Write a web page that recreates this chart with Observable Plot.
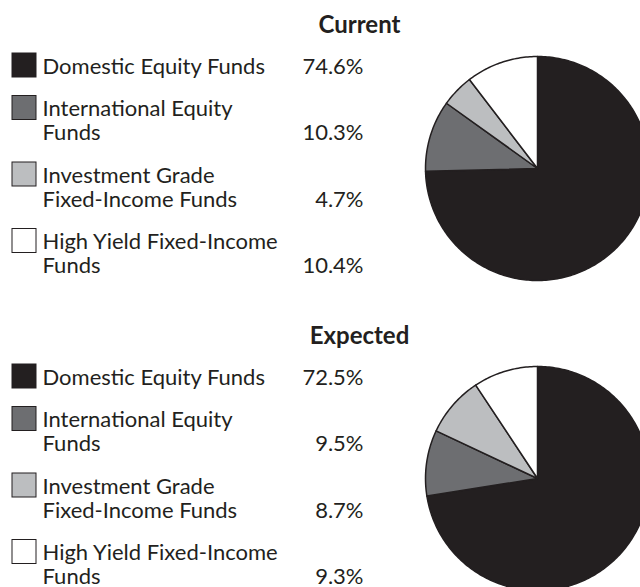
<!DOCTYPE html>
<html>
<head>
<meta charset="utf-8">
<script src="https://cdn.jsdelivr.net/npm/d3@7"></script>
<script src="https://cdn.jsdelivr.net/npm/@observablehq/plot@0.6"></script>
<style>
  html, body { margin: 0; padding: 0; background: #fff; overflow: hidden; }
  svg { overflow: hidden; display: block; }
</style>
</head>
<body>
<div id="chart"></div>
<script>
// ---- data ----
const panels = ["Current", "Expected"];
const categories = [
  "Domestic Equity Funds",
  "International Equity Funds",
  "Investment Grade Fixed-Income Funds",
  "High Yield Fixed-Income Funds"
];
const labelText = [
  "Domestic Equity Funds",
  "International Equity\nFunds",
  "Investment Grade\nFixed-Income Funds",
  "High Yield Fixed-Income\nFunds"
];
const currentValues = [74.6, 10.3, 4.7, 10.4];
const expectedValues = [72.5, 9.5, 8.7, 9.3];
const colors = ["#231f20", "#6d6e71", "#bcbec0", "#ffffff"];

// ---- layout ----
const W = 640, H = 587;
const panelOffset = 311;
const ink = "#231f20";
const fontSize = 22, lineStep = 24;
const pieR = 112;

const valuesByPanel = [currentValues, expectedValues];

// legend rows
const rows = [];
panels.forEach((p, pi) => {
  valuesByPanel[pi].forEach((v, i) => {
    const lines = labelText[i].split("\n").length;
    const yLast = 73 + pi * panelOffset + i * 66.5;
    const yFirst = yLast - (lines - 1) * lineStep;
    rows.push({panel: p, cat: categories[i], label: labelText[i], value: v, yLast, yFirst});
  });
});

// pie slice outlines computed from the values
const pts = [];
panels.forEach((p, pi) => {
  const vals = valuesByPanel[pi];
  const total = d3.sum(vals);
  const cx = 537, cy = 168 + pi * 310;
  let acc = 0;
  vals.forEach((v, i) => {
    const a0 = acc / total * 2 * Math.PI;
    acc += v;
    const a1 = acc / total * 2 * Math.PI;
    const key = p + "-" + i;
    pts.push({key, cat: categories[i], x: cx, y: cy});
    const n = Math.max(2, Math.ceil((a1 - a0) / (Math.PI / 180)));
    for (let k = 0; k <= n; ++k) {
      const a = a0 + (a1 - a0) * k / n;
      pts.push({key, cat: categories[i], x: cx + pieR * Math.sin(a), y: cy - pieR * Math.cos(a)});
    }
  });
});

const titles = panels.map((p, pi) => ({panel: p, y: 32 + pi * panelOffset}));

const chart = Plot.plot({
  width: W,
  height: H,
  margin: 0,
  style: {fontFamily: "Lato, sans-serif", background: "#fff", color: ink},
  x: {domain: [0, W], range: [0, W], axis: null},
  y: {domain: [0, H], range: [0, H], axis: null},
  color: {domain: categories, range: colors},
  marks: [
    Plot.line(pts, {
      x: "x", y: "y", z: "key", fill: "cat",
      stroke: ink, strokeWidth: 1.5, strokeLinejoin: "round",
      curve: "linear-closed"
    }),
    Plot.rect(rows, {
      x1: () => 12, x2: () => 36,
      y1: d => d.yFirst - 20, y2: d => d.yFirst + 4,
      fill: "cat", stroke: ink, strokeWidth: 1
    }),
    Plot.text(rows, {
      x: () => 42, y: "yLast", text: "label",
      textAnchor: "start", lineAnchor: "bottom",
      lineHeight: lineStep / fontSize,
      fontSize, fill: ink
    }),
    Plot.text(rows, {
      x: () => 363, y: "yLast", text: d => d.value.toFixed(1) + "%",
      textAnchor: "end", lineAnchor: "bottom",
      fontSize, fill: ink
    }),
    Plot.text(titles, {
      x: () => 359, y: "y", text: "panel",
      textAnchor: "middle", lineAnchor: "bottom",
      fontSize: 24, fontWeight: "bold", fill: ink
    })
  ]
});
document.getElementById("chart").appendChild(chart);
</script>
</body>
</html>
